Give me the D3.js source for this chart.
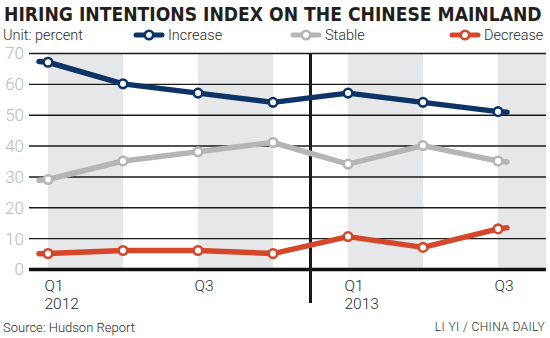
<!DOCTYPE html>
<html><head><meta charset="utf-8">
<script src="https://cdn.jsdelivr.net/npm/d3@7"></script>
<style>
html,body{margin:0;padding:0;background:#fff;}
svg{display:block;}
</style></head>
<body>
<svg id="chart" width="550" height="338"></svg>
<script>
const quarters = ["Q1 2012","Q2 2012","Q3 2012","Q4 2012","Q1 2013","Q2 2013","Q3 2013"];
const increase = [67, 60, 57, 54, 57, 54, 51];
const stable   = [29, 35, 38, 41, 34, 40, 35];
const decrease = [5, 6, 6, 5, 10.5, 7, 13];
const yTicks = [0,10,20,30,40,50,60,70];
const xLabels = [["Q1","2012"],[],["Q3"],[],["Q1","2013"],[],["Q3"]];
const seriesNames = ["Increase","Stable","Decrease"];
const seriesColors = ["#0e3466","#b4b5b7","#d4472a"];

const svg = d3.select("#chart");
const x = d3.scalePoint().domain(quarters).range([48, 498]);
const y = d3.scaleLinear().domain([0,70]).range([269, 53]);
const step = x.step();
const left = 29, right = 546;

// shaded bands
quarters.forEach((q,i)=>{
  if(i%2===0){
    const x0 = x(q);
    const x1 = Math.min(x0+step, right);
    svg.append("rect").attr("x",x0).attr("y",y(70)).attr("width",x1-x0)
      .attr("height",y(0)-y(70)).attr("fill","#e6e7e8");
  }
});

// gridlines
const yAxis = d3.axisLeft(y).tickValues(yTicks).tickSize(-(right-left)).tickFormat(d3.format("d")).tickPadding(5);
const gy = svg.append("g").attr("transform",`translate(${left},0)`).call(yAxis);
gy.select(".domain").remove();
gy.selectAll(".tick line").attr("stroke","#1a1a1a").attr("stroke-width",1.4);
gy.selectAll(".tick text").attr("fill","#b9b9b9").attr("font-family","Roboto").attr("font-weight",300)
  .attr("font-size",17).attr("dy","0.35em");
gy.selectAll(".tick").filter(d=>d===0).select("line").attr("stroke-width",3.5).attr("stroke","#111");

// year divider
const xd = (x(quarters[3])+x(quarters[4]))/2;
svg.append("line").attr("x1",xd).attr("x2",xd).attr("y1",y(70)).attr("y2",303)
  .attr("stroke","#1a1a1a").attr("stroke-width",3);

// x labels
const xAxis = d3.axisBottom(x).tickSize(0).tickFormat(()=>"");
const gx = svg.append("g").attr("transform",`translate(0,${y(0)})`).call(xAxis);
gx.select(".domain").remove();
gx.selectAll(".tick").each(function(d,i){
  const g = d3.select(this);
  g.select("text").remove();
  xLabels[i].forEach((s,k)=>{
    g.append("text").attr("x",-4).attr("y",22+k*18).text(s).attr("text-anchor","start")
      .attr("fill","#2a2a2a").attr("font-family","Roboto").attr("font-weight",300).attr("font-size",15.5);
  });
});

// lines
const data = [increase, stable, decrease];
const line = d3.line().x(d=>d[0]).y(d=>d[1]);
data.forEach((vals,si)=>{
  const pts = vals.map((v,i)=>[x(quarters[i]), y(v)]);
  const ext = 9;
  const a = pts[0], b = pts[1];
  const s0 = (b[1]-a[1])/(b[0]-a[0]);
  const c = pts[pts.length-2], e = pts[pts.length-1];
  const s1 = (e[1]-c[1])/(e[0]-c[0]);
  const full = [[a[0]-ext, a[1]-s0*ext*0.3], ...pts, [e[0]+ext, e[1]+s1*ext*0.5]];
  svg.append("path").attr("d",line(full)).attr("fill","none")
    .attr("stroke",seriesColors[si]).attr("stroke-width",5.5)
    .attr("stroke-linejoin","round").attr("stroke-linecap","round");
  svg.selectAll(null).data(pts).enter().append("circle")
    .attr("cx",d=>d[0]).attr("cy",d=>d[1]).attr("r",4.3)
    .attr("fill","#fff").attr("stroke",seriesColors[si]).attr("stroke-width",2.6);
});

// title: size the font so the natural width fits
const title = svg.append("text").attr("x",4).attr("y",21).text("HIRING INTENTIONS INDEX ON THE CHINESE MAINLAND")
  .attr("font-family","'Liberation Sans Narrow', 'DejaVu Sans Condensed', sans-serif").attr("font-weight","bold")
  .attr("font-size",20).attr("fill","#231f20");
const tlen = title.node().getComputedTextLength();
const tsize = Math.min(22, 20*538/tlen);
title.attr("font-size", tsize);
const tlen2 = title.node().getComputedTextLength();
if (tlen2 < 530) title.attr("letter-spacing", (538 - tlen2)/46);

svg.append("text").attr("x",3).attr("y",40).text("Unit: percent")
  .attr("font-family","Roboto").attr("font-weight",300).attr("font-size",14.5).attr("fill","#2a2a2a");

// legend
const legendX = [136, 293, 452];
seriesNames.forEach((n,i)=>{
  const g = svg.append("g").attr("transform",`translate(${legendX[i]},35)`);
  g.append("line").attr("x1",0).attr("x2",26).attr("stroke",seriesColors[i]).attr("stroke-width",5).attr("stroke-linecap","round");
  g.append("circle").attr("cx",13).attr("r",4.2).attr("fill","#fff").attr("stroke",seriesColors[i]).attr("stroke-width",2.6);
  g.append("text").attr("x",32).attr("y",5).text(n)
    .attr("font-family","Roboto").attr("font-weight",300).attr("font-size",14.5).attr("fill","#2a2a2a");
});

svg.append("text").attr("x",3).attr("y",332).text("Source: Hudson Report")
  .attr("font-family","Roboto").attr("font-weight",300).attr("font-size",13).attr("fill","#2a2a2a");
svg.append("text").attr("x",545).attr("y",331).attr("text-anchor","end").text("LI YI / CHINA DAILY")
  .attr("font-family","Roboto").attr("font-weight",300).attr("font-size",12).attr("fill","#2a2a2a").attr("letter-spacing",0.4);
</script>
</body></html>
